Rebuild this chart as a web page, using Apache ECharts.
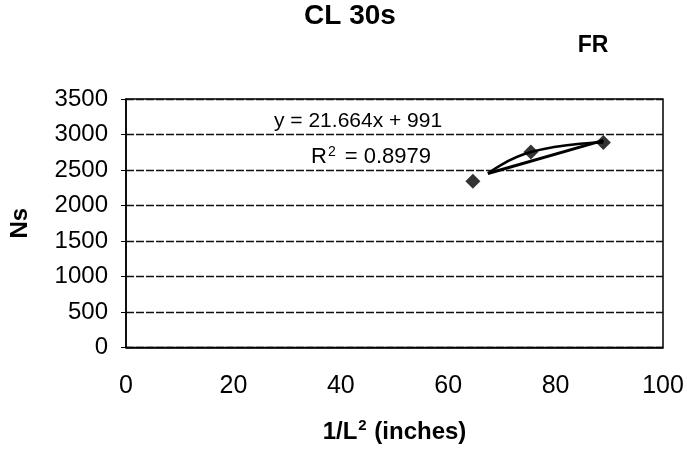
<!DOCTYPE html>
<html>
<head>
<meta charset="utf-8">
<script src="https://cdn.jsdelivr.net/npm/echarts@6/dist/echarts.min.js"></script>
<style>
  html, body { margin: 0; padding: 0; background: #fff; }
  #chart { width: 687px; height: 449px; }
</style>
</head>
<body>
<div id="chart"></div>
<script>
  // measured points (1/L^2, Ns)
  var invL2 = [64.6, 75.4, 88.9];
  var ns = [2340, 2753, 2888];

  // Excel linear trendline
  var slope = 21.664;
  var intercept = 991;
  var trendRange = [67.4, 88.9];
  var eqText = 'y = 21.664x + 991';
  var r2Text = '0.8979';

  var xTicks = [0, 20, 40, 60, 80, 100];

  var chart = echarts.init(document.getElementById('chart'));

  var points = invL2.map(function (x, i) { return [x, ns[i]]; });
  var trend = trendRange.map(function (x) { return [x, slope * x + intercept]; });
  // smoothed connector, starts on the trendline like in the scan
  var curve = [trend[0]].concat(points.slice(1));

  var font = '"Liberation Sans", Arial, sans-serif';

  var option = {
    backgroundColor: '#fff',
    animation: false,
    textStyle: { fontFamily: font },
    title: [
      {
        text: 'CL 30s',
        left: 345, top: -3, textAlign: 'center',
        textStyle: { fontSize: 28, fontWeight: 'bold', color: '#000', fontFamily: font }
      },
      {
        text: 'FR',
        left: 588, top: 29, textAlign: 'center',
        textStyle: { fontSize: 23, fontWeight: 'bold', color: '#000', fontFamily: font }
      }
    ],
    grid: {
      left: 126, right: 24, top: 99, bottom: 101,
      show: true, borderColor: '#000', borderWidth: 1.5, backgroundColor: '#fff'
    },
    xAxis: {
      type: 'value', min: 0, max: 100, interval: 20,
      name: '1/L{sup|2} (inches)',
      nameLocation: 'middle', nameGap: 71,
      nameTextStyle: {
        fontSize: 24, fontWeight: 'bold', color: '#000', fontFamily: font,
        rich: { sup: { fontSize: 15, fontWeight: 'bold', verticalAlign: 'top', padding: [0, 1, 12, 1], color: '#000' } }
      },
      axisLine: { show: true, lineStyle: { color: '#000', width: 1.5 } },
      axisTick: { show: false },
      splitLine: { show: false },
      axisLabel: {
        fontSize: 25, color: '#000', margin: 26, fontFamily: font,
        formatter: function (v) { return xTicks.indexOf(v) >= 0 ? String(v) : ''; }
      }
    },
    yAxis: {
      type: 'value', min: 0, max: 3500, interval: 500,
      name: 'Ns',
      nameLocation: 'middle', nameGap: 94, nameRotate: 90,
      nameTextStyle: { fontSize: 24, fontWeight: 'bold', color: '#000', fontFamily: font },
      axisLine: { show: true, lineStyle: { color: '#000', width: 1.5 } },
      axisTick: { show: true, inside: false, length: 5, lineStyle: { color: '#000' } },
      splitLine: { show: true, lineStyle: { color: '#111', width: 1.3, type: [8, 2] } },
      axisLabel: {
        fontSize: 24, color: '#000', margin: 18, fontFamily: font,
        formatter: function (v) { return String(v); }
      }
    },
    series: [
      {
        name: 'trend',
        type: 'line',
        data: trend,
        symbol: 'none',
        lineStyle: { color: '#000', width: 3 },
        silent: true
      },
      {
        name: 'curve',
        type: 'line',
        data: curve,
        smooth: true,
        symbol: 'none',
        lineStyle: { color: '#000', width: 2.5 },
        silent: true
      },
      {
        name: 'FR',
        type: 'scatter',
        data: points,
        symbol: 'diamond',
        symbolSize: 15,
        itemStyle: { color: '#000' },
        z: 5
      }
    ],
    graphic: [
      {
        type: 'text', left: 274, top: 111,
        style: { text: eqText, font: '21px ' + font, fill: '#000' }
      },
      {
        type: 'text', left: 311, top: 145,
        style: {
          text: '{n|R}{s|2}{n| = ' + r2Text + '}',
          rich: {
            n: { fontSize: 22, fontFamily: font, fill: '#000' },
            s: { fontSize: 14, fontFamily: font, fill: '#000', verticalAlign: 'top', padding: [0, 3, 10, 1] }
          }
        }
      }
    ]
  };

  chart.setOption(option);
</script>
</body>
</html>
